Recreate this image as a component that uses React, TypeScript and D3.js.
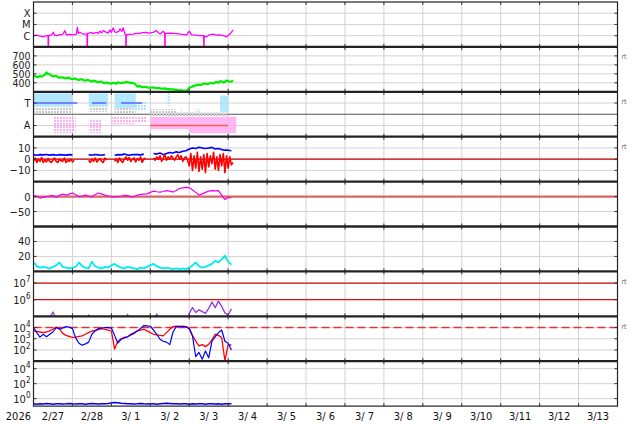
import React from 'react';
import * as d3 from 'd3';

// time axis: hours counted from 2026-02-27 00:00 UT
const START = Date.UTC(2026, 1, 27);
const END = Date.UTC(2026, 2, 14);
const HOUR = 3600 * 1000;

const dayLabels = ['2/27', '2/28', '3/ 1', '3/ 2', '3/ 3', '3/ 4', '3/ 5', '3/ 6', '3/ 7', '3/ 8', '3/ 9', '3/10', '3/11', '3/12', '3/13'];

// X-ray flux (W/m2), irregular samples
const xrayHours = [0, 2, 4, 6.2, 8, 9.0, 9.1, 9.3, 11.2, 12.2, 13, 14.2, 16, 18.2, 19.3, 20.3, 22, 24, 26.5, 27, 27.6, 28.6, 30.5, 32.7, 33.0, 33.1, 33.3, 35.8, 36.5, 38.9, 40, 40.9, 42, 43, 45, 46, 47.1, 48, 49.2, 50, 51.2, 52.5, 53.3, 54.5, 55.3, 56.4, 56.9, 57.0, 57.2, 59, 61.5, 63, 65.6, 67, 69.7, 71, 73.8, 75.9, 77, 78, 80, 80.9, 81.0, 81.2, 82.1, 84, 86.2, 88, 90.3, 92, 94.4, 96, 97.5, 100, 102.6, 104.9, 105.0, 105.2, 106.7, 108.5, 110.8, 112.5, 114.9, 117, 119, 121.1, 123.1];
const xrayFlux = [1.0e-6, 1.1e-6, 9e-7, 8e-7, 1.0e-6, 1.0e-6, 1e-9, 1.0e-6, 1.2e-6, 2.0e-6, 1.1e-6, 1.0e-6, 1.2e-6, 1.4e-6, 2.8e-6, 1.2e-6, 1.3e-6, 1.2e-6, 1.4e-6, 5.7e-6, 1.6e-6, 2.0e-6, 1.4e-6, 1.4e-6, 1.4e-6, 1e-9, 1.5e-6, 2.0e-6, 1.5e-6, 2.0e-6, 1.6e-6, 2.5e-6, 1.8e-6, 2.8e-6, 2.0e-6, 1.7e-6, 3.3e-6, 2.0e-6, 5.0e-6, 2.2e-6, 2.0e-6, 2.4e-6, 4.0e-6, 2.5e-6, 5.0e-6, 1.4e-6, 1.3e-6, 1e-9, 1.2e-6, 1.3e-6, 1.4e-6, 1.6e-6, 1.6e-6, 1.9e-6, 2.0e-6, 1.7e-6, 2.0e-6, 2.8e-6, 1.8e-6, 1.4e-6, 2.5e-6, 1.6e-6, 1e-9, 1.6e-6, 1.6e-6, 1.7e-6, 1.6e-6, 1.5e-6, 1.4e-6, 1.3e-6, 1.2e-6, 2.5e-6, 1.2e-6, 1.1e-6, 1.0e-6, 1.0e-6, 1e-9, 9e-7, 8e-7, 1.2e-6, 1.4e-6, 1.1e-6, 1.2e-6, 1.0e-6, 8e-7, 1.4e-6, 3.3e-6];

// solar wind speed (km/s), hourly
const windSpeed = [
  470, 478, 462, 466, 475, 470, 480, 490, 515, 500, 495, 482,
  470, 476, 478, 465, 455, 462, 460, 452, 448, 458, 455, 446,
  440, 448, 446, 436, 432, 440, 438, 428, 425, 432, 430, 420,
  414, 424, 420, 410, 405, 414, 412, 400, 395, 404, 400, 392,
  392, 400, 398, 390, 405, 398, 396, 404, 400, 410, 408, 400,
  402, 396, 395, 380, 358, 364, 360, 352, 352, 356, 350, 346,
  345, 350, 346, 342, 340, 344, 338, 336, 335, 338, 332, 330,
  330, 328, 326, 324, 322, 318, 316, 318, 314, 312, 312, 318,
  345, 352, 360, 366, 372, 378, 380, 376, 385, 390, 392, 384,
  388, 400, 398, 392, 405, 410, 400, 418, 415, 404, 408, 425,
  420, 412, 415, 425,
];

// IMF sector: [fromHour, toHour, angleLo, angleHi (deg), dense?]
const towardSpans = [[0, 24, 12, 116, 1], [34, 46, 12, 116, 1], [50, 63, 12, 130, 1], [60, 70, 76, 150, 0], [82, 84, 12, 116, 0], [91, 92, 140, 170, 0], [100, 103, 140, 160, 0], [115, 120, 30, 160, 1]];
const awaySpans = [[12, 26, 196, 332, 0], [34, 42, 220, 332, 0], [48, 62, 200, 260, 0], [60, 70, 196, 250, 0], [72, 96, 200, 300, 1], [96, 125, 200, 332, 1]];
const mixedSpans = [[0, 24, 116, 172, 0], [34, 46, 116, 160, 0], [50, 63, 130, 170, 0], [72, 88, 140, 195, 0], [88, 120, 165, 195, 0]];
const towardDays = [[0, 27], [36, 45], [54, 67]];
const awayDays = [[72, 120]];

// IMF Bt (2-hourly) and Bz (hourly), nT
const NaN_ = NaN;
const imfBt = [
  4, 3.5, 4, 3.8, 4.2, 3.6, 4, 3.5, 4, 3.8, 3.6, 4, 3.8,
  NaN_, NaN_, NaN_, NaN_,
  4, 3.5, 4.2, 3.8, 3.5, 4,
  NaN_, NaN_,
  3.5, 4, 3.8, 4.5, 3.6, 3.8, 4.2, 4, 3.8, 4.5,
  NaN_, NaN_,
  5, 4.5, 5.5, 4, 5, 6, 5.5, 6.5, 6, 7, 7.5,
  9, 10, 9.5, 10.5, 10, 9.5, 10, 10.5, 9, 9.5, 8.5, 8, 8, 7.5,
];
const imfBz = [
  -2, 1, -3, 0, -2, 1.5, -3, -1, -2.5, 0.5, -2, -3, -1, 1, -2, -3, 0, -1.5, -2, 1, -3, -1, -2, 0, -2.5, -1,
  NaN_, NaN_, NaN_, NaN_, NaN_, NaN_, NaN_, NaN_,
  -1, -3, 0, -2, 1, -2.5, -1, 0.5, -2, -3, 1, -1,
  NaN_, NaN_, NaN_, NaN_,
  -2, 0.5, -3, 1, -1.5, -3, 0, 2, -1, 1.5, -2, 0, 1, -2.5, 0.5, -1, 2, -3, 0, 1,
  NaN_, NaN_, NaN_, NaN_,
  1, -1, 2, 0, 3, -2, 1, 4, -1, 2, 0, 3, 1, -1, 2, 4, 0, 3, -2, 1, 2, -1,
  -6, 5, -10, 3, -8, 6, -11, 2, -9, 4, -12, 5, -7, 3, -4, 6, -9, 2, -10, 4, -6, 5, -12, 3, -8, 2, -5, -3,
];

// Dst index (nT), 2-hourly
const dst = [
  3, 1, -5, -3, 0, 2, 3, -2, 4, 8,
  5, 8, 12, 6, 0, 2, 5, 2, 0, 6,
  12, 9, 5, 2, 0, -1, 0, 1, 4, 3,
  -1, 0, 5, 7, 8, 9, 14, 18, 16, 15,
  17, 20, 18, 15, 20, 27, 29, 31, 30, 22,
  14, 5, 9, 14, 18, 20, 19, 20, 5, -10,
  -3, -4,
];

// AE-like activity, 2-hourly
const activity = [
  12, 7, 5, 6, 5, 4, 6, 8, 12, 6,
  5, 4, 5, 6, 12, 7, 5, 4, 13, 7,
  5, 4, 6, 5, 8, 10, 7, 5, 4, 6,
  5, 4, 3, 5, 4, 6, 8, 10, 7, 5,
  4, 5, 4, 3, 4, 3, 4, 3, 5, 8,
  12, 7, 5, 6, 8, 10, 14, 12, 16, 21,
  13, 9,
];

// electron fluence, 2-hourly
const electrons = [
  3e4, 3e4, 3e4, 3e4, 3e4, 8e4, 1.8e5, 7e4, 3e4, 3e4,
  3e4, 3e4, 3e4, 3e4, 3e4, 3e4, 3e4, 1.2e5, 3e4, 3e4,
  3e4, 3e4, 3e4, 3e4, 3e4, 3e4, 3e4, 3e4, 3e4, 1.3e5,
  3e4, 3e4, 3e4, 3e4, 3e4, 3e4, 3e4, 3e4, 1.4e5, 3e4,
  3e4, 3e4, 3e4, 3e4, 3e4, 3e4, 3e4, 3e4, 1.5e5, 3.3e5,
  1.7e5, 2.5e5, 1.9e5, 1.5e5, 3e5, 7.2e5, 3.3e5, 8.2e5, 4e5, 1.6e5,
  1.2e5, 2.8e5,
];

// electron flux, two satellites, 2-hourly
const fluxBlue = [
  1.0e4, 3.5e3, 1.4e3, 2.5e3, 1.5e3, 2.5e3, 4e3, 1.0e4, 7e3, 9e3,
  1.2e4, 1.1e4, 8e3, 1.2e3, 4e2, 2.6e2, 3.5e2, 5e2, 2.5e3, 5e3,
  8e3, 9e3, 1.0e4, 1.0e4, 9e3, 2e3, 4e2, 9e2, 1.2e3, 1.5e3,
  2.2e3, 3e3, 5e3, 8e3, 1.5e4, 1.4e4, 1.3e4, 6e3, 2.5e3, 9e2,
  6e2, 5e2, 3e2, 4e3, 1.2e4, 1.3e4, 1.2e4, 1.2e4, 8e3, 1.8e3,
  25, 60, 15, 80, 20, 6e2, 1.5e3, 3.5e3, 6e3, 6e2,
  4e2, 1e2,
];
const fluxRed = [
  5e3, 4.5e3, 4e3, 3.5e3, 4e3, 5e3, 7e3, 1.1e4, 8e3, 3e3,
  2e3, 1.6e3, 1.3e3, 1.4e3, 1.6e3, 1.8e3, 2.5e3, 3.5e3, 4.9e3, 5.5e3,
  6.5e3, 8e3, 7e3, 6e3, 4.9e3, 1.2e2, 6e2, 1e3, 1.3e3, 1.5e3,
  2.5e3, 3.5e3, 5e3, 6e3, 7e3, 5e3, 3.5e3, 2.5e3, 2.2e3, 2e3,
  1.8e3, 3.5e3, 7e3, 1.2e4, 1.3e4, 1.2e4, 1.3e4, 1.2e4, 8e3, 2e3,
  6e2, 2.3e2, 3e2, 2e2, 3.2e2, 8e2, 2.5e3, 2e3, 1.3e3, 11,
  3.2e2, 2.7e2,
];

// proton flux, 2-hourly
const protons = [
  0.2, 0.18, 0.21, 0.19, 0.22, 0.2, 0.18, 0.2, 0.21, 0.19,
  0.2, 0.22, 0.2, 0.19, 0.21, 0.2, 0.18, 0.2, 0.22, 0.21,
  0.19, 0.2, 0.21, 0.22, 0.26, 0.3, 0.28, 0.24, 0.22, 0.2,
  0.21, 0.19, 0.2, 0.22, 0.2, 0.19, 0.21, 0.2, 0.18, 0.2,
  0.22, 0.24, 0.23, 0.21, 0.2, 0.19, 0.21, 0.2, 0.18, 0.2,
  0.19, 0.21, 0.2, 0.18, 0.2, 0.21, 0.19, 0.2, 0.18, 0.2,
  0.21, 0.2,
];

const W = 634, H = 424;
const X0 = 33.5, X1 = 617.5;
const TOP = 2, PH = 44.9;
const pTop = (i: number) => TOP + i * PH;
const FONT = "'DejaVu Sans Condensed', 'DejaVu Sans', sans-serif";

const x = d3.scaleTime().domain([new Date(START), new Date(END)]).range([X0, X1]);
const tx = (h: number) => x(new Date(START + h * HOUR));

type Tick = { v: number; label: string; pow?: string };
type Panel = { y: any; ticks: Tick[]; rt?: boolean; fs?: number };

const panels: Panel[] = [
  { y: d3.scaleLog().domain([1e-7, 1e-3]).range([pTop(1), pTop(0)]), ticks: [{ v: 1e-4, label: 'X' }, { v: 1e-5, label: 'M' }, { v: 1e-6, label: 'C' }] },
  { y: d3.scaleLinear().domain([300, 800]).range([pTop(2), pTop(1)]), ticks: [700, 600, 500, 400].map(v => ({ v, label: String(v) })), rt: true, fs: 10.5 },
  { y: d3.scaleLinear().domain([0, 360]).range([pTop(2), pTop(3)]), ticks: [{ v: 90, label: 'T' }, { v: 270, label: 'A' }], rt: true },
  { y: d3.scaleLinear().domain([-20, 20]).range([pTop(4), pTop(3)]), ticks: [{ v: 10, label: '10' }, { v: 0, label: '0' }, { v: -10, label: '\u221210' }], rt: true },
  { y: d3.scaleLinear().domain([-100, 50]).range([pTop(5), pTop(4)]), ticks: [{ v: 0, label: '0' }, { v: -50, label: '\u221250' }] },
  { y: d3.scaleLinear().domain([0, 60]).range([pTop(6), pTop(5)]), ticks: [{ v: 40, label: '40' }, { v: 20, label: '20' }] },
  { y: d3.scaleLog().domain([1e5, Math.pow(10, 7.7)]).range([pTop(7), pTop(6)]), ticks: [{ v: 1e7, label: '10', pow: '7' }, { v: 1e6, label: '10', pow: '6' }], rt: true },
  { y: d3.scaleLog().domain([10, 1e5]).range([pTop(8), pTop(7)]), ticks: [{ v: 1e4, label: '10', pow: '4' }, { v: 1e3, label: '10', pow: '3' }, { v: 1e2, label: '10', pow: '2' }], rt: true },
  { y: d3.scaleLog().domain([0.1, 1e5]).range([pTop(9), pTop(8)]), ticks: [{ v: 1e4, label: '10', pow: '4' }, { v: 1e2, label: '10', pow: '2' }, { v: 1, label: '10', pow: '0' }] },
];

const stepHours = (n: number, step: number) => d3.range(n).map(i => i * step);

const linePath = (y: any, hours: number[], vals: number[]) =>
  d3.line<number>()
    .defined(i => Number.isFinite(vals[i]))
    .x(i => tx(hours[i]))
    .y(i => y(vals[i]))(d3.range(vals.length)) ?? '';

const SECTOR_COLORS: Record<string, string> = { t: '#a8e4ff', a: '#ffb0f2', m: '#c8c8c8' };

const App: React.FC = () => {
  const days = d3.range(1, 15);
  const [pX, pW, pS, pB, pD, pA, pE, pF, pP] = panels;

  const series = [
    { p: 0, d: linePath(pX.y, xrayHours, xrayFlux), c: '#ff00ff', w: 1.3 },
    { p: 1, d: linePath(pW.y, stepHours(windSpeed.length, 1), windSpeed), c: '#00ee00', w: 2.2 },
    { p: 3, d: linePath(pB.y, stepHours(imfBt.length, 2), imfBt), c: '#0000ff', w: 1.6 },
    { p: 3, d: linePath(pB.y, stepHours(imfBz.length, 1), imfBz), c: '#ff0000', w: 1.6 },
    { p: 4, d: linePath(pD.y, stepHours(dst.length, 2), dst), c: '#ee00ee', w: 1.2 },
    { p: 5, d: linePath(pA.y, stepHours(activity.length, 2), activity), c: '#00eeee', w: 1.8 },
    { p: 6, d: linePath(pE.y, stepHours(electrons.length, 2), electrons), c: '#9933dd', w: 1.3 },
    { p: 7, d: linePath(pF.y, stepHours(fluxRed.length, 2), fluxRed), c: '#ff0000', w: 1.3 },
    { p: 7, d: linePath(pF.y, stepHours(fluxBlue.length, 2), fluxBlue), c: '#0000ff', w: 1.2 },
    { p: 8, d: linePath(pP.y, stepHours(protons.length, 2), protons), c: '#0000ee', w: 1.5 },
  ];

  // dense spans are solid, sparse spans use a dotted pattern
  const spanRects = (spans: number[][], id: string) =>
    spans.map(([t0, t1, lo, hi, dense], i) => (
      <rect key={id + i} x={tx(t0)} width={tx(t1) - tx(t0)} y={pS.y(lo)} height={pS.y(hi) - pS.y(lo)}
        fill={dense ? SECTOR_COLORS[id] : `url(#${id}S)`} opacity={dense ? 0.9 : 1} />
    ));

  return (
    <div style={{ position: 'absolute', left: 0, top: 0 }}>
      <svg width={W} height={H} style={{ display: 'block', background: '#fff' }} fontFamily={FONT}>
        <defs>
          {panels.map((_, i) => (
            <clipPath id={`clip${i}`} key={i}>
              <rect x={X0} y={pTop(i)} width={X1 - X0} height={PH} />
            </clipPath>
          ))}
          {Object.entries(SECTOR_COLORS).map(([k, c]) => (
            <pattern id={k + 'S'} key={k} width={3} height={3} patternUnits="userSpaceOnUse">
              <rect width={2} height={2} fill={c} />
            </pattern>
          ))}
        </defs>

        {/* grid */}
        {days.map(d => (
          <line key={'vg' + d} x1={tx(d * 24)} x2={tx(d * 24)} y1={pTop(0)} y2={pTop(9)} stroke="#d2d2d2" strokeWidth={1} />
        ))}
        {panels.map((p, i) => p.ticks.map(t => (
          <line key={`hg${i}-${t.v}`} x1={X0} x2={X1} y1={p.y(t.v)} y2={p.y(t.v)} stroke="#d2d2d2" strokeWidth={1} />
        )))}

        {/* reference lines */}
        <line x1={X0} x2={X1} y1={pS.y(180)} y2={pS.y(180)} stroke="#555" strokeWidth={1.2} />
        <line x1={X0} x2={X1} y1={pB.y(0)} y2={pB.y(0)} stroke="#cc0000" strokeWidth={1.3} />
        <line x1={X0} x2={X1} y1={pD.y(0)} y2={pD.y(0)} stroke="#d96464" strokeWidth={2.2} />
        <line x1={X0} x2={X1} y1={pE.y(1e7)} y2={pE.y(1e7)} stroke="#cc1111" strokeWidth={1.3} />
        <line x1={X0} x2={X1} y1={pE.y(1e6)} y2={pE.y(1e6)} stroke="#dd1111" strokeWidth={1.3} />
        <line x1={X0} x2={X1} y1={pF.y(1e4)} y2={pF.y(1e4)} stroke="#e03333" strokeWidth={1.5} strokeDasharray="8,4" />

        {/* IMF sector panel */}
        <g clipPath="url(#clip2)">
          {spanRects(mixedSpans, 'm')}
          {spanRects(towardSpans, 't')}
          {spanRects(awaySpans, 'a')}
          {towardDays.map(([t0, t1], i) => (
            <line key={'td' + i} x1={tx(t0)} x2={tx(t1)} y1={pS.y(90)} y2={pS.y(90)} stroke="#5a66ff" strokeWidth={1.5} />
          ))}
          {awayDays.map(([t0, t1], i) => (
            <line key={'ad' + i} x1={tx(t0)} x2={tx(t1)} y1={pS.y(270)} y2={pS.y(270)} stroke="#ff5a5a" strokeWidth={1.5} />
          ))}
        </g>

        {/* data */}
        {series.map((s, i) => (
          <path key={'s' + i} d={s.d} clipPath={`url(#clip${s.p})`} fill="none" stroke={s.c} strokeWidth={s.w} strokeLinejoin="round" />
        ))}

        {/* ticks */}
        {panels.map((p, i) => p.ticks.map(t => (
          <g key={`tk${i}-${t.v}`} stroke="#333" strokeWidth={1}>
            <line x1={X0} x2={X0 + 3} y1={p.y(t.v)} y2={p.y(t.v)} />
            <line x1={X1 - 3} x2={X1} y1={p.y(t.v)} y2={p.y(t.v)} />
          </g>
        )))}
        {panels.map((_, i) => days.map(d => (
          <g key={`dt${i}-${d}`} stroke="#333" strokeWidth={1}>
            <line x1={tx(d * 24)} x2={tx(d * 24)} y1={pTop(i)} y2={pTop(i) + 3} />
            <line x1={tx(d * 24)} x2={tx(d * 24)} y1={pTop(i + 1) - 3} y2={pTop(i + 1)} />
          </g>
        )))}

        {/* frame */}
        <rect x={X0} y={pTop(0)} width={X1 - X0} height={pTop(9) - pTop(0)} fill="none" stroke="#222" strokeWidth={1.2} />
        {d3.range(1, 9).map(i => (
          <line key={'sep' + i} x1={X0} x2={X1} y1={pTop(i)} y2={pTop(i)} stroke="#222" strokeWidth={2.3} />
        ))}

        {/* y labels */}
        {panels.map((p, i) => p.ticks.map(t => (
          <text key={`yl${i}-${t.v}`} x={30.5} y={p.y(t.v) + 4} textAnchor="end" fontSize={p.fs ?? 11} fill="#222">
            {t.label}
            {t.pow && <tspan dy={-5} fontSize={8}>{t.pow}</tspan>}
          </text>
        )))}

        {/* right-side markers */}
        {panels.map((p, i) => p.rt ? (
          <text key={'rt' + i} x={621.5} y={pTop(i) + 12.5} fontSize={7} fill="#666">rt</text>
        ) : null)}

        {/* date labels */}
        <text x={31} y={420} textAnchor="end" fontSize={11} fill="#111">2026</text>
        {dayLabels.map((lab, i) => (
          <text key={'dl' + i} x={tx(12 + i * 24)} y={420} textAnchor="middle" fontSize={11} fill="#111" style={{ whiteSpace: 'pre' }}>{lab}</text>
        ))}
      </svg>
    </div>
  );
};

export default App;
